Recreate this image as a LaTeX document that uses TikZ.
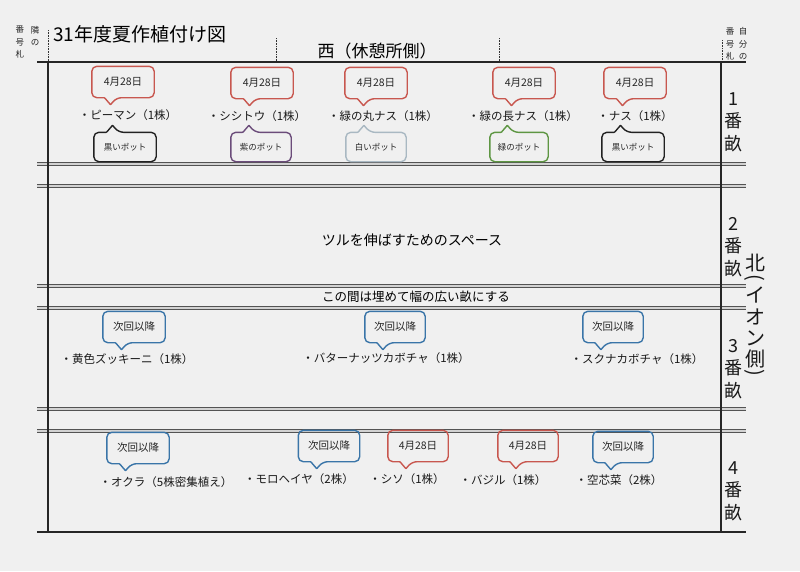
\documentclass[tikz,border=0pt]{standalone}
\usepackage{fontspec}
\setmainfont{Noto Sans CJK JP}
\usetikzlibrary{calc}
\definecolor{paper}{HTML}{F0F0F0}
\definecolor{cred}{HTML}{C8574F}
\definecolor{cblue}{HTML}{3A75A8}
\definecolor{cpurple}{HTML}{6B4C7A}
\definecolor{cwhite}{HTML}{A9B8C2}
\definecolor{cgreen}{HTML}{5E9643}
\definecolor{cblack}{HTML}{222222}
\tikzset{
  ctext/.style={inner sep=0pt, minimum height=31pt, font=\fontsize{10.5}{12}\selectfont, text=black!85},
  ptext/.style={inner sep=0pt, minimum height=29pt, font=\fontsize{8.5}{10}\selectfont, text=black!85},
  cbox/.style={line width=1.4pt, line join=round},
  plant/.style={inner sep=0pt, font=\fontsize{11.5}{13}\selectfont, text=black!90},
  gline/.style={draw=gray!65!black, double=gray!35, double distance=1.6pt, line width=0.8pt},
  bline/.style={draw=black!85, line width=1.5pt},
  dline/.style={draw=black!80, densely dotted, line width=0.6pt},
  bednum/.style={font=\fontsize{18}{22.5}\selectfont, align=center, inner sep=0pt, text=black!90},
  northch/.style={font=\fontsize{20}{22}\selectfont, inner sep=0pt, text=black!90},
  small/.style={font=\fontsize{8.5}{12.5}\selectfont, align=center, inner sep=0pt, text=black!85},
}
\newcommand{\calloutdown}[5]{%
  \node[ctext, minimum width=#4] (#1) at (#2) {#5};
  \draw[cbox, draw=#3] (#1.west) [rounded corners=5pt] -- (#1.north west) -- (#1.north east) -- (#1.south east)
    -- ($(#1.south west)!0.30!(#1.south east)+(6pt,0)$) [rounded corners=0.5pt]
    -- ($(#1.south west)!0.30!(#1.south east)+(0,-7pt)$)
    -- ($(#1.south west)!0.30!(#1.south east)+(-6pt,0)$) [rounded corners=5pt]
    -- (#1.south west) -- cycle;
}
\newcommand{\calloutup}[5]{%
  \node[ptext, minimum width=#4] (#1) at (#2) {#5};
  \draw[cbox, draw=#3] (#1.west) [rounded corners=5pt] -- (#1.south west) -- (#1.south east) -- (#1.north east)
    -- ($(#1.north west)!0.30!(#1.north east)+(6pt,0)$) [rounded corners=0.5pt]
    -- ($(#1.north west)!0.30!(#1.north east)+(0,7pt)$)
    -- ($(#1.north west)!0.30!(#1.north east)+(-6pt,0)$) [rounded corners=5pt]
    -- (#1.north west) -- cycle;
}
\begin{document}
\begin{tikzpicture}[x=1pt,y=-1pt]
\fill[paper] (0,0) rectangle (800,571);
\useasboundingbox (0,0) rectangle (800,571);

% frame
\draw[dline] (48,30) -- (48,62);
\draw[dline] (276,38) -- (276,62);
\draw[dline] (499,38) -- (499,62);
\draw[dline] (722,40) -- (722,62);
\foreach \y in {164,186,286,308,409,431} \draw[gline] (37,\y) -- (746,\y);
\draw[bline] (48,62) -- (48,532);
\draw[bline] (721,62) -- (721,532);
\draw[bline] (37,62) -- (746,62);
\draw[bline] (37,532) -- (746,532);

% headings
\node[anchor=west, inner sep=0pt, font=\fontsize{19}{22}\selectfont] (title) at (53,34) {31年度夏作植付け図};
\node[inner sep=0pt, font=\fontsize{17}{20}\selectfont] (west) at (377,51) {西（休憩所側）};
\node[small] (ltag1) at (35,36) {隣\\の};
\node[small] (ltag2) at (20,42) {番\\号\\札};
\node[small] (rtag1) at (743,44) {自\\分\\の};
\node[small] (rtag2) at (730,44) {番\\号\\札};

% bed numbers
\node[bednum] (bed1) at (733,122) {1\\番\\畝};
\node[bednum] (bed2) at (733,247) {2\\番\\畝};
\node[bednum] (bed3) at (733,369) {3\\番\\畝};
\node[bednum] (bed4) at (733,491) {4\\番\\畝};

% north (vertical text)
\node[northch] (n1) at (755,263) {北};
\node[northch, rotate=-90] (n2) at (755,277.5) {(};
\node[northch] (n3) at (755,295) {イ};
\node[northch] (n4) at (755,317) {オ};
\node[northch] (n5) at (755,338) {ン};
\node[northch] (n6) at (755,359) {側};
\node[northch, rotate=-90] (n7) at (755,373) {)};

% row 1
\calloutdown{d1}{123,82}{cred}{62pt}{4月28日}
\calloutdown{d2}{262,83}{cred}{62pt}{4月28日}
\calloutdown{d3}{376,83}{cred}{62pt}{4月28日}
\calloutdown{d4}{524,83}{cred}{62pt}{4月28日}
\calloutdown{d5}{635,83}{cred}{62pt}{4月28日}
\node[plant] (p1) at (128,115) {・ピーマン（1株）};
\node[plant] (p2) at (257,116) {・シシトウ（1株）};
\node[plant] (p3) at (383,116) {・緑の丸ナス（1株）};
\node[plant] (p4) at (523,116) {・緑の長ナス（1株）};
\node[plant] (p5) at (635,116) {・ナス（1株）};
\calloutup{k1}{125,147}{cblack}{62pt}{黒いポット}
\calloutup{k2}{261,147}{cpurple}{60pt}{紫のポット}
\calloutup{k3}{376,147}{cwhite}{60pt}{白いポット}
\calloutup{k4}{519,147}{cgreen}{58pt}{緑のポット}
\calloutup{k5}{633,147}{cblack}{62pt}{黒いポット}

% row 2
\node[inner sep=0pt, font=\fontsize{14}{16}\selectfont] (vine) at (412,240) {ツルを伸ばすためのスペース};
\node[inner sep=0pt, font=\fontsize{12.5}{14}\selectfont] (fill) at (416,297) {この間は埋めて幅の広い畝にする};

% row 3
\calloutdown{e1}{134,327}{cblue}{62pt}{次回以降}
\calloutdown{e2}{395,327}{cblue}{60pt}{次回以降}
\calloutdown{e3}{613,327}{cblue}{60pt}{次回以降}
\node[plant] (q1) at (127,359) {・黄色ズッキーニ（1株）};
\node[plant] (q2) at (386,358) {・バターナッツカボチャ（1株）};
\node[plant] (q3) at (637,359) {・スクナカボチャ（1株）};

% row 4
\calloutdown{f1}{138,448}{cblue}{62pt}{次回以降}
\calloutdown{f2}{329,446}{cblue}{61pt}{次回以降}
\calloutdown{f3}{418,446}{cred}{60pt}{4月28日}
\calloutdown{f4}{528,446}{cred}{60pt}{4月28日}
\calloutdown{f5}{623,447}{cblue}{60pt}{次回以降}
\node[plant] (r1) at (166,482) {・オクラ（5株密集植え）};
\node[plant] (r2) at (299,479) {・モロヘイヤ（2株）};
\node[plant] (r3) at (407,479) {・シソ（1株）};
\node[plant] (r4) at (503,480) {・バジル（1株）};
\node[plant] (r5) at (619,480) {・空芯菜（2株）};
\end{tikzpicture}
\end{document}
